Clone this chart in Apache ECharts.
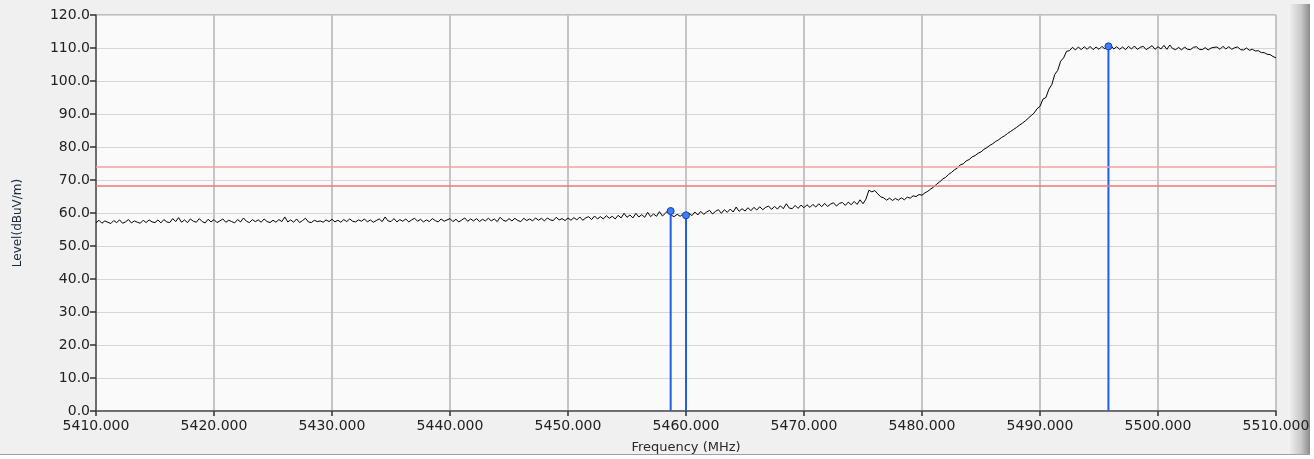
<!DOCTYPE html>
<html><head><meta charset="utf-8">
<script src="https://cdn.jsdelivr.net/npm/echarts@6/dist/echarts.min.js"></script>
<style>html,body{margin:0;padding:0;background:#f0f0f0;}#c{width:1314px;height:459px;}</style>
</head><body><div id="c"></div>
<script>
// Trace: start frequency, step (MHz), and levels (dBuV/m)
var traceStart = 5410;
var traceStep = 0.25;
var traceLevels = [
57.0,57.8,56.9,57.6,57.2,56.8,57.7,57.1,57.9,56.9,57.3,58.0,57.0,57.6,57.2,56.9,57.8,57.1,57.9,57.3,
57.1,57.9,57.0,58.0,57.3,57.1,58.3,57.4,58.6,57.2,57.9,57.1,58.2,57.5,57.2,58.3,57.4,57.0,58.1,57.3,
58.0,57.1,57.6,58.2,57.2,57.8,57.4,57.0,58.0,57.3,58.5,57.5,57.1,58.0,57.4,57.9,57.2,58.2,57.4,57.1,
57.8,57.2,58.0,57.4,58.8,57.3,57.9,57.2,58.2,57.1,57.7,58.4,57.3,57.1,57.8,57.4,57.6,57.2,57.9,57.4,
58.1,57.3,57.8,57.2,58.0,57.4,58.2,57.5,57.3,57.9,57.5,58.2,57.3,57.9,57.2,57.7,58.2,57.4,58.8,57.6,
57.4,58.3,57.3,58.0,57.5,58.2,57.3,57.9,58.4,57.5,58.1,57.3,57.9,57.4,58.3,57.7,57.3,58.2,57.5,57.9,
58.3,57.4,58.1,57.3,57.9,58.5,57.5,58.2,57.6,58.3,57.4,58.1,57.6,58.4,57.6,58.2,57.4,58.7,57.8,57.5,
58.3,57.6,58.4,57.7,57.4,58.4,57.7,58.2,57.6,58.5,57.8,58.4,57.6,58.5,57.9,57.7,58.7,57.9,58.3,57.7,
58.5,57.8,58.6,57.9,58.8,57.8,58.5,58.9,58.0,59.1,58.2,58.9,58.2,59.2,58.4,59.0,58.2,59.3,58.5,59.9,
58.7,59.4,58.5,59.9,58.8,59.5,58.7,60.2,58.9,59.7,59.0,60.4,59.1,59.9,60.9,59.3,58.9,59.6,59.0,59.7,
59.0,60.0,59.2,60.3,59.4,60.5,59.6,60.3,60.8,59.7,60.5,61.0,59.9,61.0,60.2,61.2,60.3,61.8,60.5,61.3,
60.6,61.6,60.7,61.7,60.9,61.9,61.0,61.7,62.1,61.1,62.0,61.2,62.2,61.3,62.8,61.5,61.3,62.3,61.4,62.4,
61.6,62.5,61.7,62.6,61.8,62.8,61.9,62.9,62.0,62.7,63.1,62.1,62.9,63.2,62.3,63.3,62.5,63.5,62.6,64.0,
62.8,64.2,66.9,66.4,66.8,65.8,64.9,64.6,63.9,64.5,63.8,64.4,63.9,64.6,64.0,64.8,64.5,65.2,65.0,65.6,
65.4,66.1,66.6,67.3,67.9,68.8,69.4,70.3,70.8,71.7,72.3,73.1,73.6,74.6,74.9,75.8,76.2,77.0,77.4,78.1,
78.5,79.3,79.8,80.5,81.0,81.7,82.2,82.9,83.4,84.1,84.7,85.3,85.9,86.6,87.2,87.9,88.7,89.5,90.3,91.6,
92.3,94.5,95.0,97.5,98.9,102.0,103.2,106.0,107.0,109.0,109.2,110.2,109.4,110.3,109.5,110.4,109.6,110.5,109.5,110.3,
109.6,110.5,109.7,110.6,110.8,109.7,110.4,109.6,110.3,109.5,110.5,109.7,110.6,109.6,110.2,110.5,109.5,110.1,110.7,109.6,
110.4,109.7,110.8,109.6,110.9,109.8,109.5,110.2,109.4,110.3,109.6,109.5,110.2,110.4,109.6,109.5,110.1,109.4,110.0,110.2,
110.3,109.6,110.5,109.7,110.4,109.6,110.1,110.3,109.5,109.4,110.0,109.3,109.6,109.1,109.2,108.6,108.6,108.1,108.0,107.4,
107.0
];
// Markers
var markerFreqs = [5458.7, 5460.0, 5495.8];
var markerLevels = [60.6, 59.3, 110.5];
// Limit lines
var limitLevels = [74.0, 68.2];
var limitColors = ['#f4a0a0', '#ee7878'];
// Axis ticks
var xMin = 5410, xMax = 5510, xInterval = 10;
var yMin = 0, yMax = 120, yInterval = 10;

var traceData = traceLevels.map(function (v, i) { return [traceStart + i * traceStep, v]; });

var series = [{
  type: 'line', data: traceData, showSymbol: false, symbol: 'none',
  lineStyle: { color: '#000', width: 1 }, z: 3, animation: false,
  markLine: {
    silent: true, symbol: 'none', label: { show: false }, animation: false,
    data: limitLevels.map(function (v, i) { return { yAxis: v, lineStyle: { color: limitColors[i], width: 1.5, type: 'solid' } }; })
  }
}];
markerFreqs.forEach(function (f, i) {
  series.push({
    type: 'line', data: [[f, 0], [f, markerLevels[i]]], animation: false, z: 4,
    lineStyle: { color: '#1f5fe0', width: 2 },
    symbol: 'circle', showAllSymbol: true,
    symbolSize: function (val, p) { return p.dataIndex === 1 ? 7 : 0; },
    itemStyle: { color: '#3f7fff', borderColor: '#1a3fa0', borderWidth: 1 }
  });
});

var chart = echarts.init(document.getElementById('c'), null, { renderer: 'canvas' });
chart.setOption({
  backgroundColor: '#f0f0f0',
  animation: false,
  graphic: [
    { type: 'rect', left: 1288, top: 4, shape: { width: 22, height: 450 }, silent: true,
      style: { fill: new echarts.graphic.LinearGradient(0, 0, 1, 0, [
        { offset: 0, color: '#f4f4f4' }, { offset: 0.6, color: '#c8c8c8' }, { offset: 1, color: '#8a8a8a' }]) } },
    { type: 'rect', left: 1310, top: 0, shape: { width: 4, height: 459 }, silent: true, style: { fill: '#ffffff' } },
    { type: 'rect', left: 0, top: 455, shape: { width: 1314, height: 4 }, silent: true, style: { fill: '#ffffff' } },
    { type: 'rect', left: 0, top: 454, shape: { width: 1310, height: 1 }, silent: true, style: { fill: '#a0a0a0' } }
  ],
  grid: { left: 96, right: 38, top: 15, bottom: 47, show: true, backgroundColor: '#fafafa', borderColor: '#8c8c8c', borderWidth: 1 },
  xAxis: {
    type: 'value', min: xMin, max: xMax, interval: xInterval,
    name: 'Frequency (MHz)', nameLocation: 'middle', nameGap: 30,
    nameTextStyle: { fontFamily: 'DejaVu Sans', fontSize: 13, color: '#2a2a2a' },
    axisLine: { show: true, onZero: false, lineStyle: { color: '#505050', width: 1.5 } },
    axisTick: { show: true, length: 5, lineStyle: { color: '#303030', width: 1.5 } },
    axisLabel: { fontFamily: 'DejaVu Sans', fontSize: 14, color: '#222', margin: 8,
      formatter: function (v) { return v.toFixed(3); } },
    splitLine: { show: true, lineStyle: { color: '#c4c4c4', width: 2 } }
  },
  yAxis: {
    type: 'value', min: yMin, max: yMax, interval: yInterval,
    name: 'Level(dBuV/m)', nameLocation: 'middle', nameGap: 72, nameRotate: 90,
    nameTextStyle: { fontFamily: 'DejaVu Sans', fontSize: 12, color: '#1a2a3a', padding: [0, 0, 0, -20] },
    axisLine: { show: true, lineStyle: { color: '#505050', width: 1.5 } },
    axisTick: { show: true, length: 6, lineStyle: { color: '#303030', width: 1.5 } },
    axisLabel: { fontFamily: 'DejaVu Sans', fontSize: 14, color: '#222', margin: 6,
      formatter: function (v) { return v.toFixed(1); } },
    splitLine: { show: true, lineStyle: { color: '#d6d6d6', width: 1 } }
  },
  series: series
});
</script></body></html>
